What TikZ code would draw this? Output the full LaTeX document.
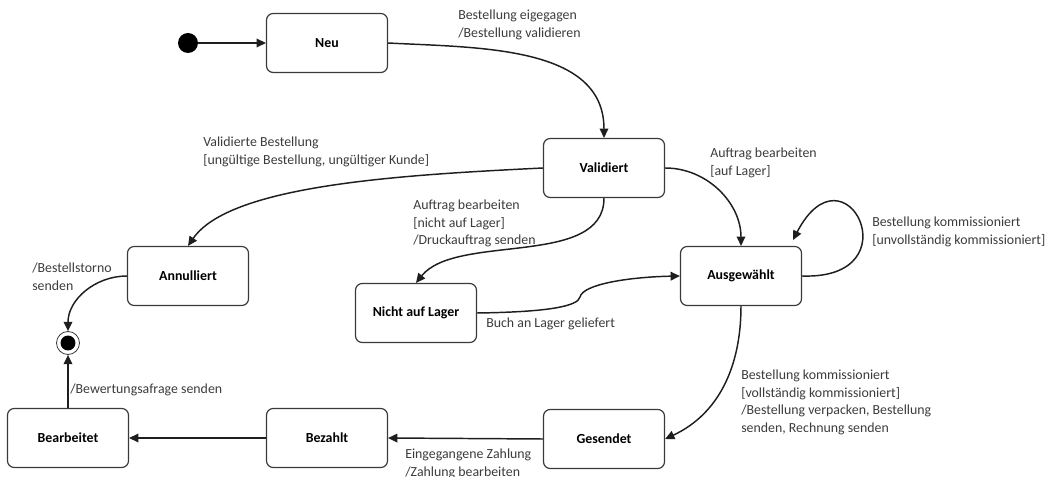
\documentclass[tikz,border=0pt]{standalone}
\usepackage{fontspec}
\setmainfont{Carlito}
\usepackage{tikz}
\usetikzlibrary{arrows.meta}
\definecolor{linegray}{HTML}{1E1E1E}
\definecolor{boxgray}{HTML}{3A3A3A}
\definecolor{labelgray}{HTML}{3C3C3C}
\newcommand\txtsize{\fontsize{10.4}{13.1}\selectfont}
\tikzset{>={Triangle[length=7pt,width=6.5pt]}}
\tikzset{
  state/.style={draw=boxgray,line width=.9pt,rounded corners=5pt,
    minimum width=90.75pt,minimum height=44.25pt,font=\bfseries\txtsize,text=black},
  initial/.style={circle,fill=black,minimum size=15pt,inner sep=0pt},
  final/.style={circle,draw=boxgray,line width=.6pt,minimum size=17.25pt,inner sep=0pt,
    path picture={\fill[black] (path picture bounding box.center) circle (5.6pt);}},
  lbl/.style={anchor=north west,inner sep=0pt,align=left,text=labelgray,font=\txtsize},
  trans/.style={->,draw=linegray,line width=1.1pt}
}

\begin{document}
\begin{tikzpicture}[x=0.75pt,y=-0.75pt]
    \useasboundingbox (0,0) rectangle (1047,477);
    \clip (0,0) rectangle (1047,477);
    \node[initial] (start) at (188,43) {};
    \node[state] (neu) at (327,43) {Neu};
    \node[state] (validiert) at (604,168) {Validiert};
    \node[state] (annulliert) at (188,276) {Annulliert};
    \node[state] (nichtlager) at (416,313) {Nicht auf Lager};
    \node[state] (ausgewaehlt) at (741,276) {Ausgewählt};
    \node[final] (ende) at (68,343) {};
    \node[state] (bearbeitet) at (68,438) {Bearbeitet};
    \node[state] (bezahlt) at (327,438) {Bezahlt};
    \node[state] (gesendet) at (604,439) {Gesendet};
    \coordinate (loopend) at (793,240);
    \coordinate (kink) at (580,297);

    \draw[trans] (start) -- (neu.west);
    \draw[trans] (neu.east) to[out=-3,in=90] (validiert.north);
    \draw[trans] (validiert.west) .. controls (400,175) and (230,185) .. (annulliert.north);
    \draw[trans] (validiert.south) .. controls +(0,70) and +(40,-50) .. (nichtlager.north);
    \draw[trans] (validiert.east) to[out=0,in=90] (ausgewaehlt.north);
    \draw[trans] (ausgewaehlt.east) .. controls (915,280) and (845,140) .. (loopend);
    \draw[trans] (nichtlager.east) .. controls (550,312) and (578,306) .. (kink)
      .. controls (583,284) and (630,277) .. (ausgewaehlt.west);
    \draw[trans] (ausgewaehlt.south) to[out=-90,in=25] (gesendet.east);
    \draw[trans] (annulliert.west) to[out=180,in=90] (ende.north);
    \draw[trans] (gesendet.west) -- (bezahlt.east);
    \draw[trans] (bezahlt.west) -- (bearbeitet.east);
    \draw[trans] (bearbeitet.north) -- (ende.south);

    \node[lbl] (l1) at (458,10) {Bestellung eigegagen\\/Bestellung validieren};
    \node[lbl] (l2) at (203,137) {Validierte Bestellung\\{[}ungültige Bestellung, ungültiger Kunde{]}};
    \node[lbl] (l3) at (710,148) {Auftrag bearbeiten\\{[}auf Lager{]}};
    \node[lbl] (l4) at (413,200) {Auftrag bearbeiten\\{[}nicht auf Lager{]}\\/Druckauftrag senden};
    \node[lbl] (l5) at (872,217) {Bestellung kommissioniert\\{[}unvollständig kommissioniert{]}};
    \node[lbl] (l6) at (32,263) {/Bestellstorno\\senden};
    \node[lbl] (l7) at (486,318) {Buch an Lager geliefert};
    \node[lbl] (l8) at (70,384) {/Bewertungsafrage senden};
    \node[lbl] (l9) at (741,370) {Bestellung kommissioniert\\{[}vollständig kommissioniert{]}\\/Bestellung verpacken, Bestellung\\senden, Rechnung senden};
    \node[lbl] (l10) at (405,449) {Eingegangene Zahlung\\/Zahlung bearbeiten};
\end{tikzpicture}
\end{document}
